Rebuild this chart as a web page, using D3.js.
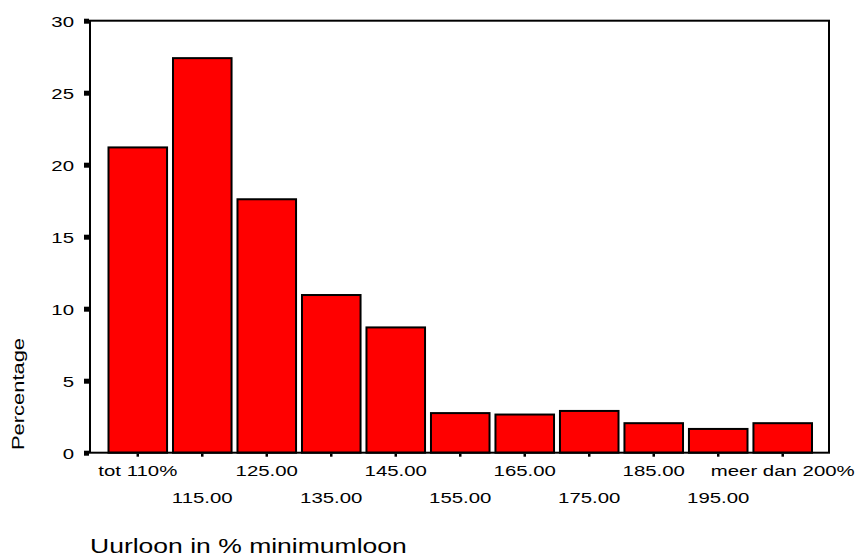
<!DOCTYPE html>
<html>
<head>
<meta charset="utf-8">
<script src="https://cdn.jsdelivr.net/npm/d3@7"></script>
<style>
  body { margin: 0; background: #fff; }
  text { font-family: "Liberation Sans", Arial, sans-serif; fill: #000; }
</style>
</head>
<body>
<div id="chart"></div>
<script>
// data
var categories = ["tot 110%", "115.00", "125.00", "135.00", "145.00", "155.00",
                  "165.00", "175.00", "185.00", "195.00", "meer dan 200%"];
var percentages = [21.2, 27.4, 17.6, 10.95, 8.7, 2.75, 2.65, 2.9, 2.05, 1.65, 2.05];
var yTicks = [0, 5, 10, 15, 20, 25, 30];

function init(){

var w = 859;
var h = 557;
var left = 90, right = 829, top = 20.7, bottom = 452.7;
var stretch = 1.36; // the original font is drawn wide

var dataset = categories.map(function(c, i) {
  return { cat: c, pct: percentages[i] };
});

var xScale = d3.scaleBand()
  .domain(categories)
  .range([left + 18.5, right - 17])
  .paddingInner(0.092)
  .paddingOuter(0);

var yScale = d3.scaleLinear()
  .domain([0, 30])
  .range([bottom, top]);

var svg = d3.select("#chart")
  .append("svg")
  .attr("width", w)
  .attr("height", h);

// bars
svg.selectAll("rect.bar")
  .data(dataset)
  .enter()
  .append("rect")
  .attr("class", "bar")
  .attr("x", function(d) { return xScale(d.cat); })
  .attr("y", function(d) { return yScale(d.pct); })
  .attr("width", xScale.bandwidth())
  .attr("height", function(d) { return bottom - yScale(d.pct); })
  .attr("fill", "#FF0000")
  .attr("stroke", "#000")
  .attr("stroke-width", 2);

// frame
svg.append("rect")
  .attr("x", left)
  .attr("y", top)
  .attr("width", right - left)
  .attr("height", bottom - top)
  .attr("fill", "none")
  .attr("stroke", "#000")
  .attr("stroke-width", 2);

// y axis
var yAxis = d3.axisLeft(yScale)
  .tickValues(yTicks)
  .tickSize(5)
  .tickPadding(0)
  .tickFormat(d3.format("d"));
var gy = svg.append("g")
  .attr("transform", "translate(" + (left - 1) + ",0)")
  .call(yAxis);
gy.select(".domain").remove();
gy.selectAll(".tick line").attr("stroke", "#000").attr("stroke-width", 5);
gy.selectAll(".tick text")
  .attr("x", 0)
  .attr("dy", "0.36em")
  .style("font-size", "15px")
  .attr("transform", "translate(-15,0) scale(" + stretch + ",1)");

// x axis: ticks at bar centres, labels on two alternating rows
var xAxis = d3.axisBottom(xScale)
  .tickSize(3)
  .tickPadding(0);
var gx = svg.append("g")
  .attr("transform", "translate(0," + (bottom + 1) + ")")
  .call(xAxis);
gx.select(".domain").remove();
gx.selectAll(".tick line").attr("stroke", "#000").attr("stroke-width", 2.5);
gx.selectAll(".tick text")
  .attr("y", function(d, i) { return i % 2 === 0 ? 22.5 : 49.5; })
  .attr("dy", 0)
  .style("font-size", "15px")
  .attr("transform", "scale(" + stretch + ",1)");

// axis titles
svg.append("text")
  .attr("transform", "translate(23.5,450) rotate(-90) scale(1.37,1)")
  .attr("text-anchor", "start")
  .style("font-size", "16px")
  .text("Percentage");

svg.append("text")
  .attr("transform", "translate(" + left + ",552.5) scale(1.36,1)")
  .style("font-size", "19.5px")
  .text("Uurloon in % minimumloon");
}

window.onload = init;
</script>
</body>
</html>
